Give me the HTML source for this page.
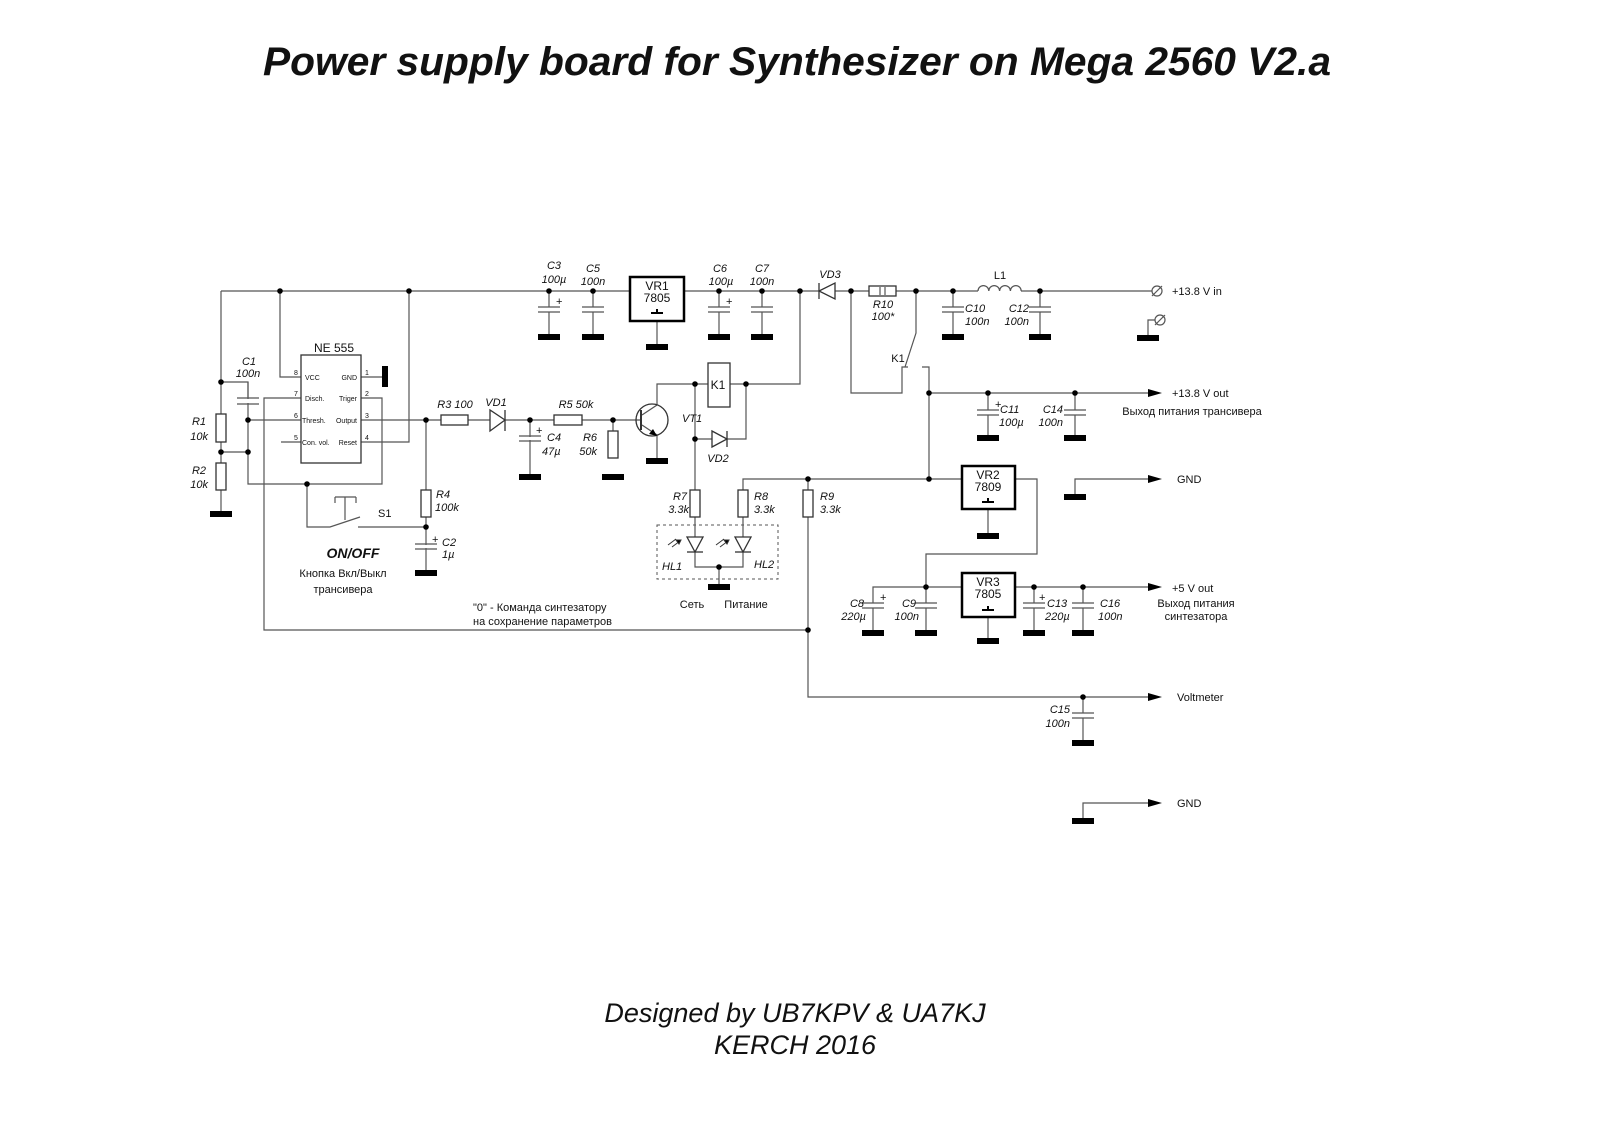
<!DOCTYPE html>
<html><head><meta charset="utf-8"><style>
html,body{margin:0;padding:0;background:#fff}
svg{display:block}
text{font-family:"Liberation Sans",sans-serif;fill:#111}
.i{font-style:italic;font-size:11px}
.s{font-size:11px}
.w{stroke:#555;stroke-width:1.2;fill:none}
.b{stroke:#333;stroke-width:1.3;fill:#fff}
</style></head><body>
<svg width="1600" height="1131" viewBox="0 0 1600 1131" xmlns="http://www.w3.org/2000/svg">
<text x="263" y="75" font-size="40" font-weight="bold" font-style="italic" textLength="1068" lengthAdjust="spacingAndGlyphs">Power supply board for Synthesizer on  Mega 2560   V2.a</text>
<text x="795" y="1022" font-size="27" font-style="italic" text-anchor="middle">Designed by UB7KPV &amp; UA7KJ</text>
<text x="795" y="1054" font-size="27" font-style="italic" text-anchor="middle">KERCH 2016</text>

<!-- wires -->
<g class="w">
<path d="M221 291H1152"/>
<path d="M221 291V514"/>
<path d="M221 382H248V484H382V398H361"/>
<path d="M221 452H248"/>
<path d="M248 420H301"/>
<path d="M280 291V377H301"/>
<path d="M301 398H264V630H808"/>
<path d="M281 442H301"/>
<path d="M361 377H382"/>
<path d="M361 442H409V291"/>
<path d="M361 420H613V458"/>
<path d="M426 420V527H358"/>
<path d="M307 484V527H330L360 517"/>
<path d="M345 497V520M335 497H356M335 497V503M356 497V503"/>
<path d="M426 527V573"/>
<path d="M530 420V477"/>
<path d="M613 420H640"/>
<path d="M642 415L657 405V384H708M730 384H800V291"/>
<path d="M642 425L657 435V461"/>
<path d="M695 384V537M695 552V567H743V552M743 537V479H962"/>
<path d="M719 567V587"/>
<path d="M695 439H746V384"/>
<path d="M808 479V697H1150"/>
<path d="M851 291V393H902V367H908"/>
<path d="M916 291V333L905 367"/>
<path d="M922 367H929V479"/>
<path d="M929 393H1150"/>
<path d="M1015 479H1037V554H926V587"/>
<path d="M873 598V587H962M1015 587H1150"/>
<path d="M1075 494V479H1150"/>
<path d="M1083 818V803H1150"/>
<path d="M1155 320H1148V336"/>
<path d="M657 321V344M988 509V533M988 617V638"/>
</g>
<!-- caps -->
<g class="w">
<path d="M549 291V307M538 307H560M538 312H560M549 312V334"/>
<path d="M593 291V307M582 307H604M582 312H604M593 312V334"/>
<path d="M719 291V307M708 307H730M708 312H730M719 312V334"/>
<path d="M762 291V307M751 307H773M751 312H773M762 312V334"/>
<path d="M953 291V307M942 307H964M942 312H964M953 312V334"/>
<path d="M1040 291V307M1029 307H1051M1029 312H1051M1040 312V334"/>
<path d="M988 393V410M977 410H999M977 415H999M988 415V435"/>
<path d="M1075 393V410M1064 410H1086M1064 415H1086M1075 415V435"/>
<path d="M873 598V603M862 603H884M862 608H884M873 608V630"/>
<path d="M926 587V603M915 603H937M915 608H937M926 608V630"/>
<path d="M1034 587V603M1023 603H1045M1023 608H1045M1034 608V630"/>
<path d="M1083 587V603M1072 603H1094M1072 608H1094M1083 608V630"/>
<path d="M1083 697V713M1072 713H1094M1072 718H1094M1083 718V740"/>
<path d="M248 382V398M237 398H259M237 404H259M248 404"/>
<path d="M530 436H519M519 436H541M519 441H541"/>
<path d="M426 544H415M415 544H437M415 549H437"/>
</g>
<rect x="242" y="399" width="12" height="4" fill="#fff"/>
<rect x="524" y="437" width="12" height="3" fill="#fff"/>
<rect x="420" y="545" width="12" height="3" fill="#fff"/>
<!-- plus signs -->
<g class="s"><text x="556" y="305">+</text><text x="726" y="305">+</text><text x="995" y="408">+</text><text x="880" y="601">+</text><text x="1039" y="601">+</text><text x="536" y="434">+</text><text x="432" y="543">+</text></g>
<!-- grounds -->
<g fill="#000">
<rect x="538" y="334" width="22" height="6"/><rect x="582" y="334" width="22" height="6"/>
<rect x="708" y="334" width="22" height="6"/><rect x="751" y="334" width="22" height="6"/>
<rect x="646" y="344" width="22" height="6"/>
<rect x="942" y="334" width="22" height="6"/><rect x="1029" y="334" width="22" height="6"/>
<rect x="1137" y="335" width="22" height="6"/>
<rect x="210" y="511" width="22" height="6"/>
<rect x="382" y="366" width="6" height="21"/>
<rect x="519" y="474" width="22" height="6"/><rect x="602" y="474" width="22" height="6"/>
<rect x="415" y="570" width="22" height="6"/>
<rect x="646" y="458" width="22" height="6"/>
<rect x="708" y="584" width="22" height="6"/>
<rect x="977" y="435" width="22" height="6"/><rect x="1064" y="435" width="22" height="6"/>
<rect x="1064" y="494" width="22" height="6"/>
<rect x="977" y="533" width="22" height="6"/>
<rect x="862" y="630" width="22" height="6"/><rect x="915" y="630" width="22" height="6"/>
<rect x="977" y="638" width="22" height="6"/>
<rect x="1023" y="630" width="22" height="6"/><rect x="1072" y="630" width="22" height="6"/>
<rect x="1072" y="740" width="22" height="6"/><rect x="1072" y="818" width="22" height="6"/>
</g>
<!-- dots -->
<g fill="#000">
<circle cx="280" cy="291" r="2.8"/><circle cx="409" cy="291" r="2.8"/><circle cx="549" cy="291" r="2.8"/><circle cx="593" cy="291" r="2.8"/>
<circle cx="719" cy="291" r="2.8"/><circle cx="762" cy="291" r="2.8"/><circle cx="800" cy="291" r="2.8"/><circle cx="851" cy="291" r="2.8"/>
<circle cx="916" cy="291" r="2.8"/><circle cx="953" cy="291" r="2.8"/><circle cx="1040" cy="291" r="2.8"/>
<circle cx="221" cy="382" r="2.8"/><circle cx="248" cy="420" r="2.8"/><circle cx="221" cy="452" r="2.8"/><circle cx="248" cy="452" r="2.8"/>
<circle cx="307" cy="484" r="2.8"/><circle cx="426" cy="420" r="2.8"/><circle cx="426" cy="527" r="2.8"/><circle cx="530" cy="420" r="2.8"/><circle cx="613" cy="420" r="2.8"/>
<circle cx="695" cy="384" r="2.8"/><circle cx="746" cy="384" r="2.8"/><circle cx="695" cy="439" r="2.8"/><circle cx="719" cy="567" r="2.8"/>
<circle cx="808" cy="479" r="2.8"/><circle cx="929" cy="479" r="2.8"/><circle cx="929" cy="393" r="2.8"/>
<circle cx="988" cy="393" r="2.8"/><circle cx="1075" cy="393" r="2.8"/>
<circle cx="926" cy="587" r="2.8"/><circle cx="1034" cy="587" r="2.8"/><circle cx="1083" cy="587" r="2.8"/>
<circle cx="808" cy="630" r="2.8"/><circle cx="1083" cy="697" r="2.8"/>
</g>
<!-- arrows -->
<g fill="#000">
<path d="M1148 389L1162 393L1148 397Z"/><path d="M1148 475L1162 479L1148 483Z"/>
<path d="M1148 583L1162 587L1148 591Z"/><path d="M1148 693L1162 697L1148 701Z"/><path d="M1148 799L1162 803L1148 807Z"/>
</g>
<!-- terminals -->
<g class="w"><circle cx="1157" cy="291" r="5" fill="#fff"/><path d="M1152 296L1162 286"/><circle cx="1160" cy="320" r="5" fill="#fff"/><path d="M1155 325L1165 315"/></g>
<!-- resistors -->
<g class="b">
<rect x="216" y="414" width="10" height="28"/><rect x="216" y="463" width="10" height="27"/>
<rect x="441" y="415" width="27" height="10"/><rect x="554" y="415" width="28" height="10"/>
<rect x="608" y="431" width="10" height="27"/><rect x="421" y="490" width="10" height="27"/>
<rect x="690" y="490" width="10" height="27"/><rect x="738" y="490" width="10" height="27"/><rect x="803" y="490" width="10" height="27"/>
<rect x="869" y="286" width="27" height="10"/>
<rect x="708" y="363" width="22" height="44"/>
<rect x="301" y="355" width="60" height="108"/>
</g>
<path d="M880 287V295M885 287V295" stroke="#333" stroke-width="1"/>
<!-- diodes -->
<g class="b">
<path d="M490 410V431L505 420Z"/><path d="M505 410V431" fill="none"/>
<path d="M835 283V299L819 291Z"/><path d="M819 283V299" fill="none"/>
<path d="M712 431V447L727 439Z"/><path d="M727 431V447" fill="none"/>
<path d="M687 537H703L695 552Z"/><path d="M687 552H703" fill="none"/>
<path d="M735 537H751L743 552Z"/><path d="M735 552H751" fill="none"/>
</g>
<g stroke="#333" stroke-width="1" fill="#000">
<path d="M672 547L680 541M668 545L676 539"/><path d="M720 547L728 541M716 545L724 539"/>
<path d="M681 540L676 540L679 544Z"/><path d="M729 540L724 540L727 544Z"/>
</g>
<rect x="657" y="525" width="121" height="54" fill="none" stroke="#555" stroke-dasharray="3,3"/>
<!-- inductor -->
<rect x="978" y="285" width="43" height="8" fill="#fff"/>
<path d="M978 291a5.4 5.4 0 0 1 10.8 0a5.4 5.4 0 0 1 10.8 0a5.4 5.4 0 0 1 10.8 0a5.4 5.4 0 0 1 10.8 0" class="w" stroke="#333"/>
<!-- transistor -->
<circle cx="652" cy="420" r="16" fill="none" stroke="#333" stroke-width="1.3"/>
<path d="M641 410V430" stroke="#333" stroke-width="2"/>
<path d="M657 436L649 434L653 429Z" fill="#000"/>
<!-- regulators -->
<g fill="#fff" stroke="#000" stroke-width="2.5">
<rect x="630" y="277" width="54" height="44"/><rect x="962" y="466" width="53" height="43"/><rect x="962" y="573" width="53" height="44"/>
</g>
<g stroke="#000" stroke-width="2"><path d="M651 313H663M657 309V313"/><path d="M982 502H994M988 498V502"/><path d="M982 610H994M988 606V610"/></g>
<g class="s" text-anchor="middle">
<text x="657" y="290" style="font-size:12px">VR1</text><text x="657" y="302" style="font-size:12px">7805</text>
<text x="988" y="479" style="font-size:12px">VR2</text><text x="988" y="491" style="font-size:12px">7809</text>
<text x="988" y="586" style="font-size:12px">VR3</text><text x="988" y="598" style="font-size:12px">7805</text>
<text x="718" y="389" style="font-size:12px">K1</text>
<text x="334" y="352" style="font-size:12px">NE 555</text>
</g>
<!-- 555 pins -->
<g>
<text x="305" y="380" class="s" style="font-size:7px">VCC</text><text x="305" y="401" class="s" style="font-size:7px">Disch.</text>
<text x="302" y="423" class="s" style="font-size:7px">Thresh.</text><text x="302" y="445" class="s" style="font-size:7px">Con. vol.</text>
<text x="357" y="380" text-anchor="end" class="s" style="font-size:7px">GND</text><text x="357" y="401" text-anchor="end" class="s" style="font-size:7px">Triger</text>
<text x="357" y="423" text-anchor="end" class="s" style="font-size:7px">Output</text><text x="357" y="445" text-anchor="end" class="s" style="font-size:7px">Reset</text>
<text x="294" y="375" class="s" style="font-size:7px">8</text><text x="294" y="396" class="s" style="font-size:7px">7</text><text x="294" y="418" class="s" style="font-size:7px">6</text><text x="294" y="440" class="s" style="font-size:7px">5</text>
<text x="365" y="375" class="s" style="font-size:7px">1</text><text x="365" y="396" class="s" style="font-size:7px">2</text><text x="365" y="418" class="s" style="font-size:7px">3</text><text x="365" y="440" class="s" style="font-size:7px">4</text>
</g>
<!-- labels -->
<g class="i">
<text x="554" y="269" text-anchor="middle">C3</text><text x="554" y="283" text-anchor="middle">100µ</text>
<text x="593" y="272" text-anchor="middle">C5</text><text x="593" y="285" text-anchor="middle">100n</text>
<text x="720" y="272" text-anchor="middle">C6</text><text x="721" y="285" text-anchor="middle">100µ</text>
<text x="762" y="272" text-anchor="middle">C7</text><text x="762" y="285" text-anchor="middle">100n</text>
<text x="830" y="278" text-anchor="middle">VD3</text>
<text x="883" y="308" text-anchor="middle">R10</text><text x="883" y="320" text-anchor="middle">100*</text>
<text x="965" y="312">C10</text><text x="965" y="325">100n</text>
<text x="1029" y="312" text-anchor="end">C12</text><text x="1029" y="325" text-anchor="end">100n</text>
<text x="249" y="365" text-anchor="middle">C1</text><text x="248" y="377" text-anchor="middle">100n</text>
<text x="206" y="425" text-anchor="end">R1</text><text x="208" y="440" text-anchor="end">10k</text>
<text x="206" y="474" text-anchor="end">R2</text><text x="208" y="488" text-anchor="end">10k</text>
<text x="455" y="408" text-anchor="middle">R3  100</text><text x="496" y="406" text-anchor="middle">VD1</text>
<text x="576" y="408" text-anchor="middle">R5  50k</text>
<text x="547" y="441">C4</text><text x="542" y="455">47µ</text>
<text x="597" y="441" text-anchor="end">R6</text><text x="597" y="455" text-anchor="end">50k</text>
<text x="436" y="498">R4</text><text x="435" y="511">100k</text>
<text x="442" y="546">C2</text><text x="442" y="558">1µ</text>
<text x="682" y="422">VT1</text><text x="718" y="462" text-anchor="middle">VD2</text>
<text x="687" y="500" text-anchor="end">R7</text><text x="689" y="513" text-anchor="end">3.3k</text>
<text x="754" y="500">R8</text><text x="754" y="513">3.3k</text>
<text x="820" y="500">R9</text><text x="820" y="513">3.3k</text>
<text x="662" y="570">HL1</text><text x="754" y="568">HL2</text>
<text x="1000" y="413">C11</text><text x="999" y="426">100µ</text>
<text x="1063" y="413" text-anchor="end">C14</text><text x="1063" y="426" text-anchor="end">100n</text>
<text x="864" y="607" text-anchor="end">C8</text><text x="866" y="620" text-anchor="end">220µ</text>
<text x="916" y="607" text-anchor="end">C9</text><text x="919" y="620" text-anchor="end">100n</text>
<text x="1047" y="607">C13</text><text x="1045" y="620">220µ</text>
<text x="1100" y="607">C16</text><text x="1098" y="620">100n</text>
<text x="1070" y="713" text-anchor="end">C15</text><text x="1070" y="727" text-anchor="end">100n</text>
</g>
<g class="s">
<text x="1000" y="279" text-anchor="middle">L1</text>
<text x="898" y="362" text-anchor="middle">K1</text>
<text x="378" y="517">S1</text>
<text x="1172" y="295">+13.8 V in</text>
<text x="1172" y="397">+13.8 V out</text>
<text x="1192" y="415" text-anchor="middle">Выход питания трансивера</text>
<text x="1177" y="483">GND</text>
<text x="1172" y="592">+5 V out</text>
<text x="1196" y="607" text-anchor="middle">Выход питания</text>
<text x="1196" y="620" text-anchor="middle">синтезатора</text>
<text x="1177" y="701">Voltmeter</text>
<text x="1177" y="807">GND</text>
<text x="692" y="608" text-anchor="middle">Сеть</text><text x="746" y="608" text-anchor="middle">Питание</text>
<text x="343" y="577" text-anchor="middle">Кнопка Вкл/Выкл</text>
<text x="343" y="593" text-anchor="middle">трансивера</text>
<text x="473" y="611">"0" -  Команда синтезатору</text>
<text x="473" y="625">на сохранение  параметров</text>
</g>
<text x="353" y="558" font-size="14" font-weight="bold" font-style="italic" text-anchor="middle">ON/OFF</text>
</svg>
</body></html>
